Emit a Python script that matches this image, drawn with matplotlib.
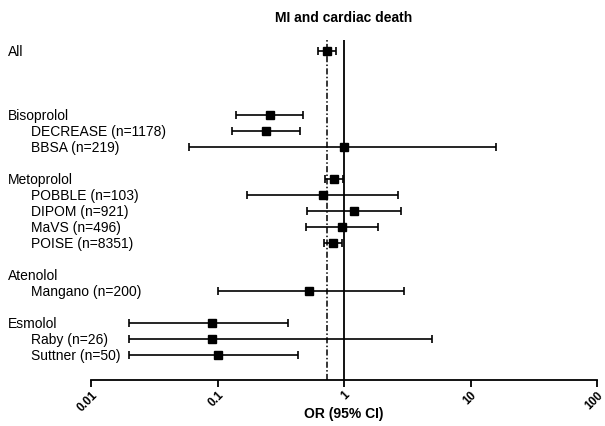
import numpy as np
import matplotlib.pyplot as plt
import matplotlib.transforms as mtransforms

plt.rcParams['font.family'] = ['Liberation Sans', 'DejaVu Sans']

# rows of the forest plot (group headers have no own indent)
labels = ['All', 'Bisoprolol', 'DECREASE (n=1178)', 'BBSA (n=219)',
          'Metoprolol', 'POBBLE (n=103)', 'DIPOM (n=921)', 'MaVS (n=496)', 'POISE (n=8351)',
          'Atenolol', 'Mangano (n=200)',
          'Esmolol', 'Raby (n=26)', 'Suttner (n=50)']
rows = [0, 4, 5, 6, 8, 9, 10, 11, 12, 14, 15, 17, 18, 19]
is_sub = [False, False, True, True, False, True, True, True, True, False, True, False, True, True]
odds = [0.73, 0.26, 0.24, 1.0, 0.84, 0.68, 1.2, 0.96, 0.82, 0.53, 0.53, 0.091, 0.091, 0.10]
lower = [0.62, 0.14, 0.13, 0.060, 0.71, 0.17, 0.51, 0.50, 0.70, 0.10, 0.10, 0.020, 0.020, 0.020]
upper = [0.87, 0.47, 0.45, 16.0, 0.99, 2.68, 2.83, 1.86, 0.96, 2.98, 2.98, 0.36, 5.0, 0.43]
# Atenolol header has no own estimate in the picture
has_mark = [True, True, True, True, True, True, True, True, True, False, True, True, True, True]
pooled = 0.73
xticks = [0.01, 0.1, 1, 10, 100]
xticklabels = ['0.01', '0.1', '1', '10', '100']

fig = plt.figure(figsize=(6.05, 4.27), dpi=100)
ax = fig.add_axes([91 / 605, 1 - 381 / 427, (597 - 91) / 605, (381 - 41) / 427])

ax.axvline(1, color='black', lw=1.3, zorder=1)
ax.axvline(pooled, color='black', lw=1.1, linestyle=(0, (4, 1.5, 1, 1.5)), zorder=1)

for i in range(len(rows)):
    if not has_mark[i]:
        continue
    err = [[odds[i] - lower[i]], [upper[i] - odds[i]]]
    ax.errorbar(odds[i], rows[i], xerr=err, fmt='s', color='black', ms=5.5,
                ecolor='black', elinewidth=1.2, capsize=3, capthick=1.2, zorder=3)

trans = mtransforms.blended_transform_factory(fig.transFigure, ax.transData)
for i in range(len(rows)):
    x = 31 / 605 if is_sub[i] else 8 / 605
    ax.text(x, rows[i], labels[i], transform=trans, fontsize=10, va='center', ha='left')

ax.set_xscale('log')
ax.set_xlim(0.01, 100)
ax.set_ylim(20.56, -0.69)
ax.set_xticks(xticks)
ax.set_xticklabels(xticklabels, rotation=45, ha='right', rotation_mode='anchor',
                   fontweight='bold', fontsize=8.5)
ax.xaxis.set_minor_locator(plt.NullLocator())
ax.tick_params(axis='x', direction='out', length=5, width=1.3, pad=1)
ax.set_yticks([])
for s in ['left', 'right', 'top']:
    ax.spines[s].set_visible(False)
ax.spines['bottom'].set_linewidth(1.3)
ax.set_xlabel('OR (95% CI)', fontweight='bold', fontsize=10)
ax.xaxis.set_label_coords(0.5, -0.076)
ax.set_title('MI and cardiac death', fontweight='bold', fontsize=10, pad=14)

plt.savefig('out.png', dpi=100)
